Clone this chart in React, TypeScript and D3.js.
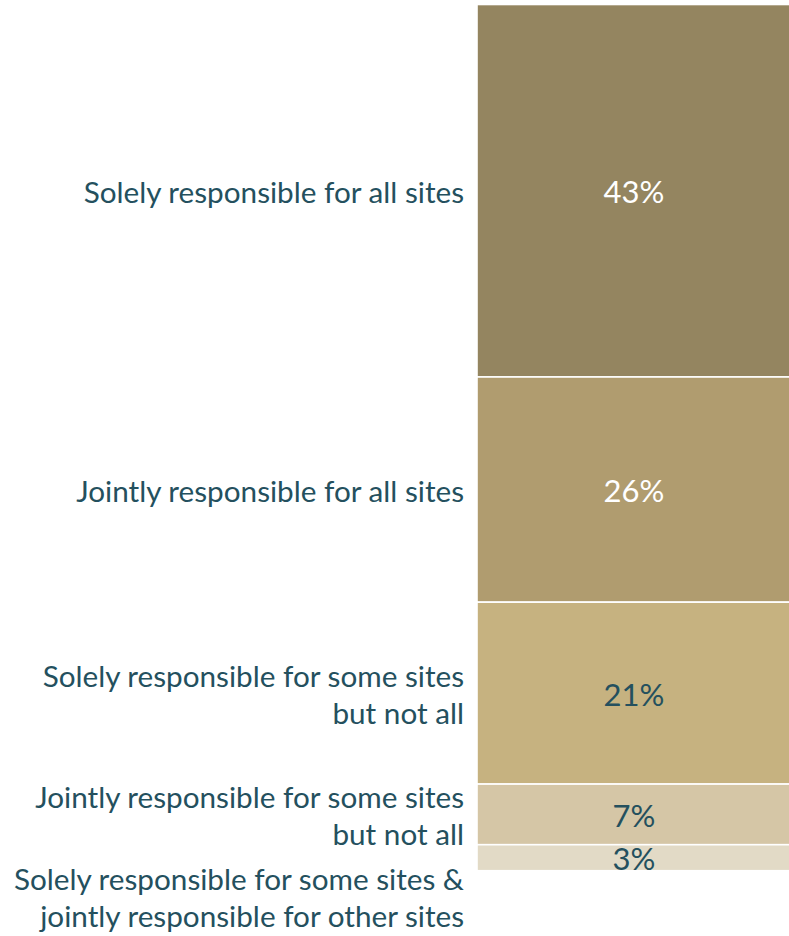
import React from "react";
import * as d3 from "d3";

const categories: string[][] = [
  ["Solely responsible for all sites"],
  ["Jointly responsible for all sites"],
  ["Solely responsible for some sites", "but not all"],
  ["Jointly responsible for some sites", "but not all"],
  ["Solely responsible for some sites &", "jointly responsible for other sites"],
];
const values: number[] = [43, 26, 21, 7, 3];
const valueLabels: string[] = ["43%", "26%", "21%", "7%", "3%"];
const fills: string[] = ["#948560", "#b09c6f", "#c6b280", "#d5c6a6", "#e2dac6"];
const labelColors: string[] = ["#ffffff", "#ffffff", "#24505e", "#24505e", "#24505e"];

const W = 789;
const H = 936;
const barLeft = 477;
const barRight = 792;
const barTop = 4.5;
const barBottom = 870.7;
const fontSize = 29.7;
const valueFontSize = 31;
const lineH = 37;
const capHalf = 12;
const valueCapHalf = 12.5;
const textColor = "#24505e";
const font = "Lato, 'Open Sans', sans-serif";

export default function App() {
  const total = d3.sum(values);
  const y = d3.scaleLinear().domain([0, total]).range([barTop, barBottom]);
  const cum = d3.cumsum(values);
  const segs = values.map((v, i) => {
    const start = i === 0 ? 0 : cum[i - 1];
    return { y0: y(start), y1: y(start + v), i };
  });

  // left label placement with simple collision avoidance
  const gap = 8;
  const blocks: { center: number; lines: string[] }[] = [];
  let prevBottom = -Infinity;
  segs.forEach((s, i) => {
    const lines = categories[i];
    const h = lines.length * lineH;
    let c = (s.y0 + s.y1) / 2;
    if (c - h / 2 < prevBottom + gap) c = prevBottom + gap + h / 2;
    prevBottom = c + h / 2;
    blocks.push({ center: c, lines });
  });

  return (
    <div style={{ position: "absolute", left: 0, top: 0 }}>
      <svg width={W} height={H} style={{ display: "block", background: "#fff" }}>
        {segs.map((s) => (
          <rect
            key={"r" + s.i}
            x={barLeft}
            y={s.y0}
            width={barRight - barLeft}
            height={s.y1 - s.y0}
            fill={fills[s.i]}
            stroke="#ffffff"
            strokeWidth={1.6}
          />
        ))}
        {segs.map((s) => (
          <text
            key={"v" + s.i}
            x={(barLeft + 789) / 2 + 1}
            y={(s.y0 + s.y1) / 2 + valueCapHalf}
            textAnchor="middle"
            fill={labelColors[s.i]}
            fontFamily={font}
            fontSize={valueFontSize}
          >
            {valueLabels[s.i]}
          </text>
        ))}
        {blocks.map((b, i) => {
          const n = b.lines.length;
          const firstBase = b.center - ((n - 1) * lineH) / 2 + capHalf;
          return (
            <text
              key={"l" + i}
              textAnchor="end"
              fill={textColor}
              fontFamily={font}
              fontSize={fontSize}
            >
              {b.lines.map((ln, j) => (
                <tspan key={j} x={barLeft - 13} y={firstBase + j * lineH}>
                  {ln}
                </tspan>
              ))}
            </text>
          );
        })}
      </svg>
    </div>
  );
}
